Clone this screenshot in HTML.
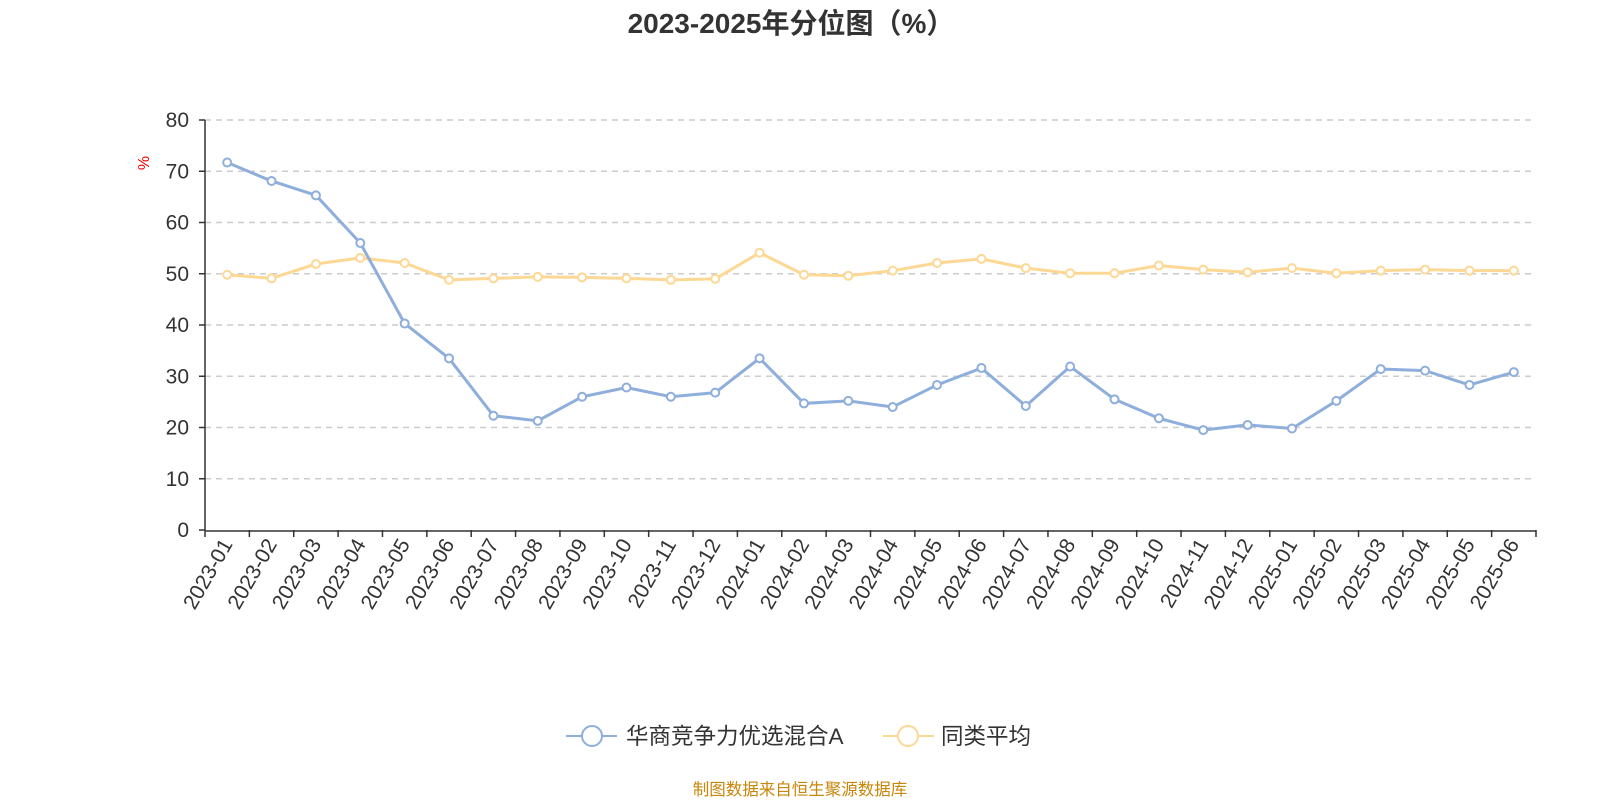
<!DOCTYPE html>
<html><head><meta charset="utf-8"><style>
body{margin:0;background:#fff;}
svg{display:block;font-family:"Liberation Sans","Noto Sans CJK SC",sans-serif;}
</style></head><body>
<svg id="c" width="1600" height="800">
<text x="791" y="33" text-anchor="middle" font-size="28" font-weight="bold" fill="#333">2023-2025年分位图（%）</text>
<text x="0" y="0" transform="translate(149,163) rotate(-90)" text-anchor="middle" font-size="16" fill="#e00">%</text>
<g id="grid"></g><g id="axes"></g><g id="series"></g>
<g>
<g><line x1="566" y1="736" x2="617" y2="736" stroke="#8eaedb" stroke-width="2"/><circle cx="592" cy="736" r="10" fill="#fff" stroke="#8eaedb" stroke-width="2"/><text x="626" y="744" font-size="22.5" fill="#333">华商竞争力优选混合A</text></g>
<g><line x1="883" y1="736" x2="934" y2="736" stroke="#fdd894" stroke-width="2"/><circle cx="908" cy="736" r="10" fill="#fff" stroke="#fdd894" stroke-width="2"/><text x="941" y="744" font-size="22.5" fill="#333">同类平均</text></g>
</g>
<text x="800" y="795" text-anchor="middle" font-size="16.5" fill="#c8860a">制图数据来自恒生聚源数据库</text>
</svg>
<script>
const categories=["2023-01","2023-02","2023-03","2023-04","2023-05","2023-06","2023-07","2023-08","2023-09","2023-10","2023-11","2023-12","2024-01","2024-02","2024-03","2024-04","2024-05","2024-06","2024-07","2024-08","2024-09","2024-10","2024-11","2024-12","2025-01","2025-02","2025-03","2025-04","2025-05","2025-06"];
const fundValues=[71.7,68.1,65.3,56,40.3,33.5,22.3,21.3,26,27.8,26,26.8,33.5,24.7,25.2,24,28.3,31.6,24.2,31.9,25.5,21.8,19.5,20.5,19.8,25.2,31.4,31.1,28.3,30.8];
const avgValues=[49.8,49.1,51.9,53.1,52.1,48.8,49.1,49.4,49.3,49.1,48.8,49.0,54.1,49.8,49.6,50.6,52.1,52.9,51.1,50.1,50.1,51.6,50.8,50.3,51.1,50.1,50.6,50.8,50.6,50.6];
const yTicks=[0,10,20,30,40,50,60,70,80];
const NS="http://www.w3.org/2000/svg";
const X0=205,X1=1536,Y0=530,Y1=120,YMAX=80;
const bw=(X1-X0)/categories.length;
const xs=i=>X0+bw*(i+0.5);
const ys=v=>Y0-(v/YMAX)*(Y0-Y1);
function mk(tag,attrs,parent){const e=document.createElementNS(NS,tag);for(const k in attrs)e.setAttribute(k,attrs[k]);parent.appendChild(e);return e;}
const grid=document.getElementById('grid'),axes=document.getElementById('axes'),series=document.getElementById('series');
yTicks.forEach(t=>{
 if(t>0){const g=mk('line',{x1:X0,x2:X1,y1:ys(t),y2:ys(t),stroke:'#ccc','stroke-dasharray':'6,5','stroke-width':1.5},grid);
 
 }
 const tx=mk('text',{x:189,y:ys(t)+7,'text-anchor':'end','font-size':21,fill:'#333'},axes);tx.textContent=t;
 
 
 mk('line',{x1:199,x2:X0,y1:ys(t),y2:ys(t),stroke:'#333','stroke-width':1.5},axes);
});
const ya=mk('line',{x1:X0,x2:X0,y1:Y1,y2:Y0,stroke:'#333','stroke-width':1.5},axes);


const xa=mk('line',{x1:X0,x2:X1,y1:Y0+1,y2:Y0+1,stroke:'#333','stroke-width':1.5},axes);


for(let i=0;i<=categories.length;i++)mk('line',{x1:X0+bw*i,x2:X0+bw*i,y1:Y0,y2:Y0+7,stroke:'#333','stroke-width':1.5},axes);
categories.forEach((c,i)=>{
 const x=xs(i)+6,y=Y0+14;
 const t=mk('text',{x:x,y:y,transform:`rotate(-60 ${x} ${y})`,'text-anchor':'end','font-size':21,fill:'#333'},axes);t.textContent=c;
 
 
});
function draw(vals,color,name){
 const p=mk('polyline',{points:vals.map((v,i)=>xs(i)+','+ys(v)).join(' '),fill:'none',stroke:color,'stroke-width':3},series);
 
 
 vals.forEach((v,i)=>{const c=mk('circle',{cx:xs(i),cy:ys(v),r:4,fill:'#fff',stroke:color,'stroke-width':2},series);
 
 });
}
draw(avgValues,'#fdd894','average');
draw(fundValues,'#8eaedb','fund');
</script>
</body></html>
